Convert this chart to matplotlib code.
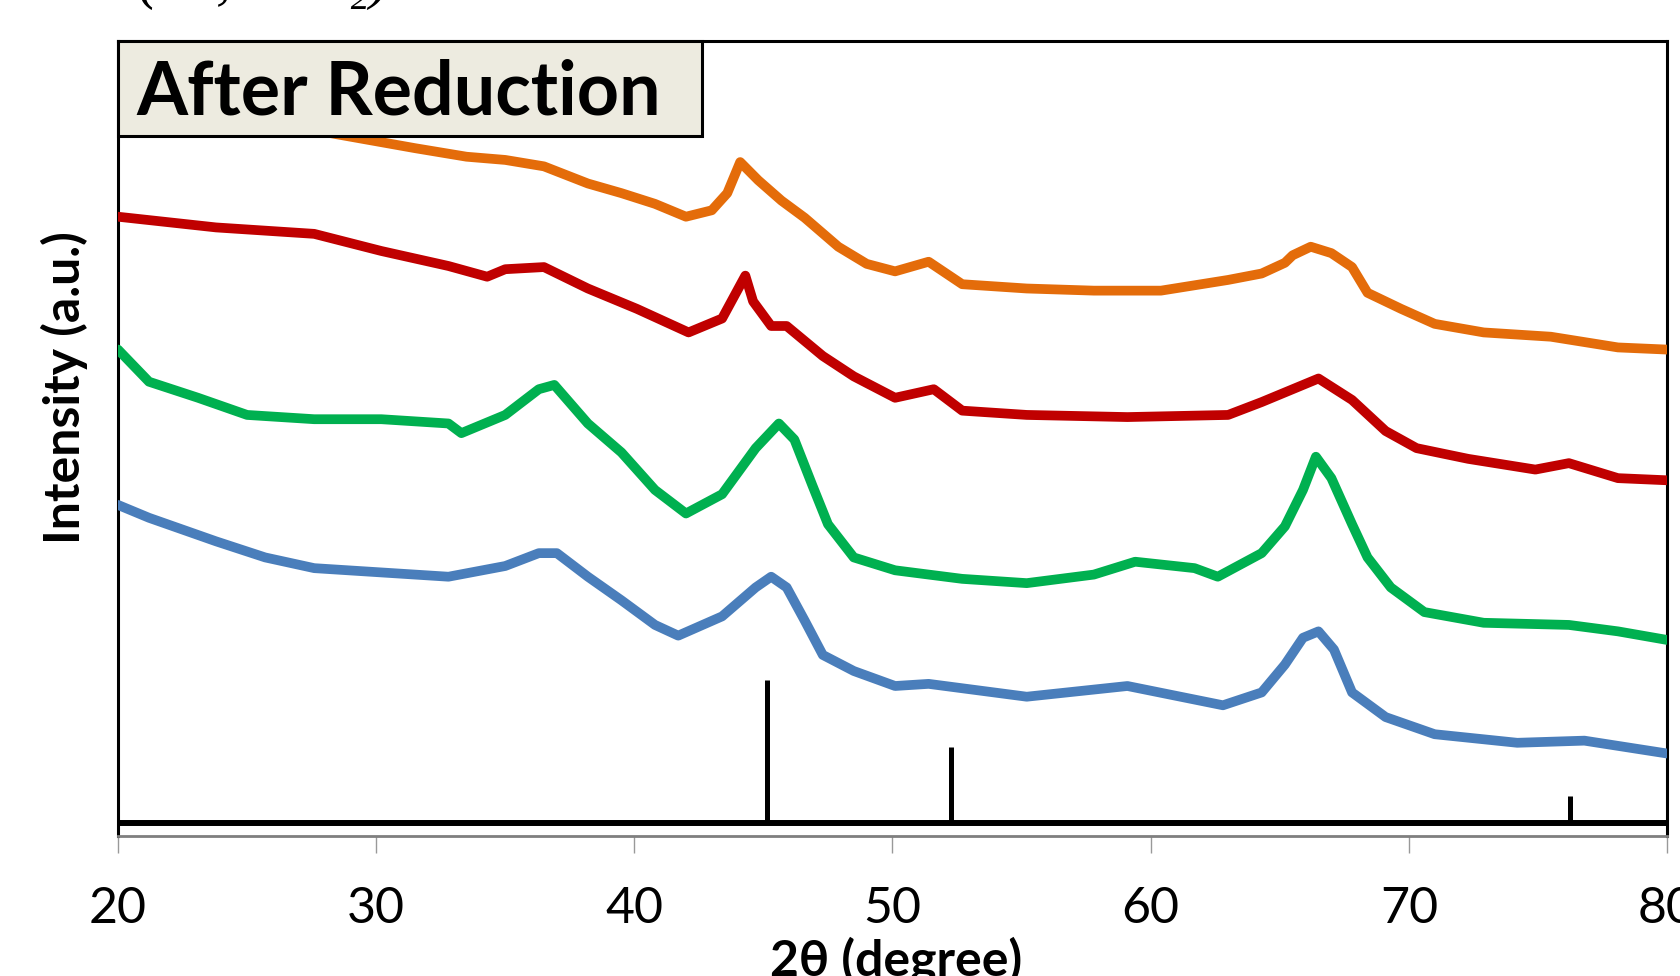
import matplotlib
matplotlib.use("Agg")
import matplotlib.pyplot as plt
from matplotlib.patches import Rectangle

# 2-theta (degree) / intensity (a.u.)
orange_x = [20.0, 24.0, 28.0, 31.5, 33.5, 35.0, 36.5, 38.2, 39.5, 40.8, 42.0, 43.0, 43.6, 44.1,
            44.8, 45.7, 46.6, 47.9, 49.0, 50.1, 51.4, 52.7, 55.2, 57.8, 60.4, 63.0, 64.3,
            65.2, 65.5, 66.2, 67.0, 67.8, 68.4, 69.7, 71.0, 72.9, 75.5, 78.1, 80.0]
orange_y = [700, 672, 645, 630, 622, 619, 613, 597, 588, 578, 566, 572, 588, 617,
            600, 581, 565, 538, 522, 515, 524, 503, 499, 497, 497, 507, 513,
            523, 530, 538, 532, 519, 495, 480, 466, 458, 454, 444, 442]

red_x = [20.0, 23.8, 27.6, 30.2, 32.8, 34.3, 35.0, 36.5, 38.2, 40.1, 42.1, 43.4, 44.3,
         44.6, 45.3, 45.9, 47.3, 48.5, 50.1, 51.6, 52.7, 55.2, 59.1, 63.0, 64.3, 65.5,
         66.5, 67.8, 69.1, 70.3, 72.3, 74.9, 76.2, 78.1, 80.0]
red_y = [566, 556, 550, 534, 520, 510, 517, 519, 499, 480, 458, 471, 511,
         487, 464, 464, 436, 417, 397, 405, 385, 381, 379, 381, 393, 405,
         415, 395, 366, 350, 340, 330, 336, 322, 320]

green_x = [20.0, 21.2, 23.1, 25.0, 27.6, 30.2, 32.8, 33.3, 35.0, 36.3, 36.9, 38.2, 39.5,
           40.8, 42.0, 43.4, 44.7, 45.6, 46.2, 46.9, 47.5, 48.5, 50.1, 52.7, 55.2, 57.8,
           59.4, 61.7, 62.6, 64.3, 65.2, 65.9, 66.4, 67.0, 67.8, 68.4, 69.3, 70.6, 72.9,
           76.2, 78.1, 80.0]
green_y = [442, 412, 397, 381, 377, 377, 373, 364, 381, 405, 409, 373, 346,
           311, 289, 307, 350, 373, 358, 315, 279, 248, 236, 228, 224, 232,
           244, 238, 230, 252, 277, 311, 342, 322, 279, 248, 220, 197, 187,
           185, 179, 171]

blue_x = [20.0, 21.2, 23.8, 25.7, 27.6, 30.2, 32.8, 35.0, 36.3, 37.0, 38.2, 39.5, 40.8,
          41.7, 43.4, 44.7, 45.3, 45.9, 46.6, 47.3, 48.5, 50.1, 51.4, 55.2, 59.1, 62.8,
          64.3, 65.2, 65.9, 66.5, 67.1, 67.8, 69.1, 71.0, 74.2, 76.8, 80.0]
blue_y = [297, 285, 263, 248, 238, 234, 230, 240, 252, 252, 230, 208, 185,
          175, 193, 220, 230, 220, 189, 157, 142, 128, 130, 118, 128, 110,
          122, 148, 173, 179, 162, 122, 99, 83, 75, 77, 65]

# reference pattern sticks
ref_pos = [45.15, 52.26, 76.25]
ref_int = [134, 71, 25]

series = [(blue_x, blue_y, '#4A7EBB'), (green_x, green_y, '#00B050'),
          (red_x, red_y, '#C00000'), (orange_x, orange_y, '#E46C0A')]

fig = plt.figure(figsize=(16.81, 9.76), dpi=100)
ax = fig.add_axes([118/1681, 1 - 836/976, 1549/1681, 795/976])

for xs, ys, c in series:
    ax.plot(xs, ys, color=c, lw=7, solid_capstyle='round', solid_joinstyle='round', zorder=3)

ax.vlines(ref_pos, 0, ref_int, color='black', lw=3.6, zorder=2)
ax.axhline(0, color='black', lw=4.3, zorder=2)

ax.set_xlim(20, 80)
ax.set_ylim(-12, 730)
ax.set_xticks([20, 30, 40, 50, 60, 70, 80])
ax.set_yticks([])

for s in ['top', 'left', 'right']:
    ax.spines[s].set_color('black')
    ax.spines[s].set_linewidth(2.2)
ax.spines['bottom'].set_color('#7f7f7f')
ax.spines['bottom'].set_linewidth(2)
ax.tick_params(axis='x', direction='out', length=12, width=1, color='#999999',
               labelsize=36, pad=24)
for lab in ax.get_xticklabels():
    lab.set_family('Lato')

# label box
box = Rectangle((0, 0.88), 0.377, 0.12, transform=ax.transAxes, facecolor='#EDEBE0',
                edgecolor='black', lw=2.2, zorder=5, clip_on=False)
ax.add_patch(box)
ax.text(0.012, 0.934, 'After Reduction', transform=ax.transAxes, fontsize=53,
        fontweight='bold', family='Lato', va='center', ha='left', zorder=6)

fig.text(64/1681, 1 - 388/976, 'Intensity (a.u.)', rotation=90, fontsize=36,
         fontweight='bold', family='Lato', ha='center', va='center')
fig.text(896/1681, 1 - 960/976, '2θ (degree)', fontsize=36, fontweight='bold',
         family='Lato', ha='center', va='center')

# caption above the frame, only its lower edge falls inside the picture
fig.text(390/1681, 1 + 3/976, '(Ni, ZrO₂)', fontsize=44, style='italic',
         family='Liberation Serif', ha='right', va='baseline')

fig.savefig('out.png', dpi=100)
